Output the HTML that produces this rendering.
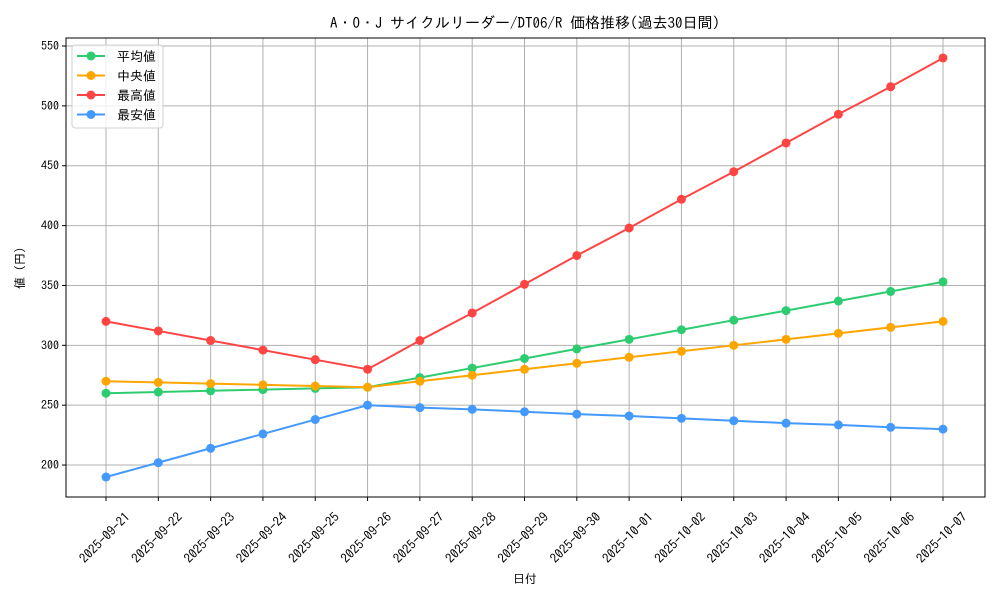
<!DOCTYPE html>
<html><head><meta charset="utf-8"><style>
body{margin:0;background:#fff;}
svg text{font-family:"IPAGothic","Liberation Sans",sans-serif;fill:#000;}
</style></head><body>
<svg id="chart" width="1000" height="600"></svg>
<script>
const categories=["2025-09-21","2025-09-22","2025-09-23","2025-09-24","2025-09-25","2025-09-26","2025-09-27","2025-09-28","2025-09-29","2025-09-30","2025-10-01","2025-10-02","2025-10-03","2025-10-04","2025-10-05","2025-10-06","2025-10-07"];
const meanValues=[260,261,262,263,264,265,273,281,289,297,305,313,321,329,337,345,353];
const medianValues=[270,269,268,267,266,265,270,275,280,285,290,295,300,305,310,315,320];
const maxValues=[320,312,304,296,288,280,304,327,351,375,398,422,445,469,493,516,540];
const minValues=[190,202,214,226,238,250,248,246.5,244.5,242.5,241,239,237,235,233.5,231.5,230];
const yTicks=[200,250,300,350,400,450,500,550];
const seriesNames=["平均値","中央値","最高値","最安値"];
const seriesColors=["#2ecc71","#ffa500","#ff4444","#4499ff"];
const seriesKeys=["mean","median","max","min"];

const NS="http://www.w3.org/2000/svg";
const svg=document.getElementById('chart');
const L=66,R=985,T=38,B=497;
const yMin=173.3,yMax=556.7;
const x=i=>106+i*(943-106)/(categories.length-1);
const y=v=>B-(v-yMin)/(yMax-yMin)*(B-T);
function mk(tag,attrs,parent){const e=document.createElementNS(NS,tag);for(const k in attrs)e.setAttribute(k,attrs[k]);(parent||svg).appendChild(e);return e;}

const grid=mk('g',{});


categories.forEach((c,i)=>{
  const l=mk('line',{x1:x(i),x2:x(i),y1:T,y2:B,stroke:'#b0b0b0','stroke-width':1},grid);
  
  
  const t=mk('line',{x1:x(i),x2:x(i),y1:B,y2:B+4,stroke:'#000'});
  
  
  const cx=x(i)-1,cy=B+41;
  const tx=mk('text',{x:cx,y:cy+4,'font-size':13,'text-anchor':'middle',transform:`rotate(-45 ${cx} ${cy})`});
  tx.textContent=c;
  
  
});
yTicks.forEach(v=>{
  const l=mk('line',{x1:L,x2:R,y1:y(v),y2:y(v),stroke:'#b0b0b0','stroke-width':1},grid);
  
  
  const t=mk('line',{x1:L-4,x2:L,y1:y(v),y2:y(v),stroke:'#000'});
  
  
  const tx=mk('text',{x:L-7,y:y(v)+4,'font-size':12,'text-anchor':'end'});
  tx.textContent=v;
  
  
});
const frame=mk('rect',{x:L,y:T,width:R-L,height:B-T,fill:'none',stroke:'#000','stroke-width':1});



const dataMap={mean:meanValues,median:medianValues,max:maxValues,min:minValues};
seriesKeys.forEach((k,si)=>{
  const vals=dataMap[k];
  const g=mk('g',{});
  
  
  const p=mk('polyline',{points:vals.map((v,i)=>x(i)+','+y(v)).join(' '),fill:'none',stroke:seriesColors[si],'stroke-width':2},g);
  
  
  vals.forEach((v,i)=>{
    const c=mk('circle',{cx:x(i),cy:y(v),r:4.5,fill:seriesColors[si]},g);
    
    
  });
});

const lg=mk('g',{});


mk('rect',{x:72,y:45,width:91,height:83,rx:3,fill:'#fff','fill-opacity':0.8,stroke:'#d0d0d0'},lg);
seriesNames.forEach((n,i)=>{
  const yy=56+i*19.5;
  const e=mk('g',{},lg);
  
  
  mk('line',{x1:77,x2:105,y1:yy,y2:yy,stroke:seriesColors[i],'stroke-width':2},e);
  mk('circle',{cx:91,cy:yy,r:4.5,fill:seriesColors[i]},e);
  const t=mk('text',{x:117,y:yy+5,'font-size':13},e);
  t.textContent=n;
});

const title=mk('text',{x:525,y:28,'font-size':15,'text-anchor':'middle'});
title.textContent="A・O・J サイクルリーダー/DT06/R 価格推移(過去30日間)";


const xt=mk('text',{x:525,y:583,'font-size':12,'text-anchor':'middle'});
xt.textContent="日付";


const yt=mk('text',{x:24,y:268,'font-size':12,'text-anchor':'middle',transform:'rotate(-90 24 268)'});
yt.textContent="値 (円)";


</script>
</body></html>
